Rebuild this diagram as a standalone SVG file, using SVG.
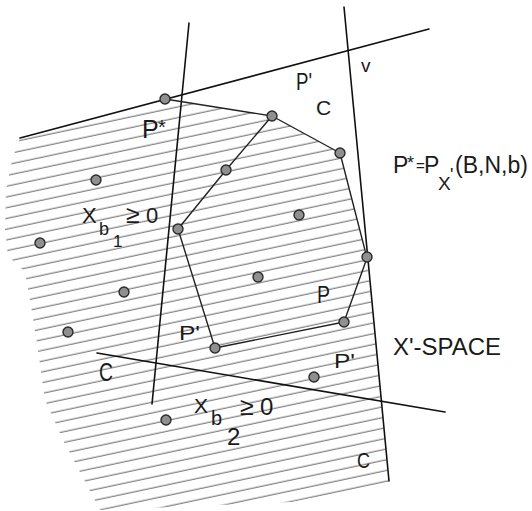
<svg xmlns="http://www.w3.org/2000/svg" width="532" height="511" viewBox="0 0 532 511">
<style>
.ln{stroke:#111;stroke-width:1.6;fill:none;stroke-linecap:round}
.edge{stroke:#222;stroke-width:1.4;fill:none;stroke-linejoin:round}
.pt{fill:#8f8f8f;stroke:#2a2a2a;stroke-width:1.4}
.t{font-family:"Liberation Sans",Arial,sans-serif;fill:#1a1a1a}
</style>
<defs>
<pattern id="hatch" patternUnits="userSpaceOnUse" width="200" height="10.5" patternTransform="rotate(-12)">
<line x1="0" y1="5" x2="200" y2="5" stroke="#555" stroke-width="0.95"/>
</pattern>
<clipPath id="hclip">
<polygon points="20,138 165,99 272,116 340,153 367,258 389,483 292,502 100,510 63,440 45,400 38,350 30,300 25,272 8,256 5,230 6,190 12,160"/>
</clipPath>
</defs>
<rect id="hatching" x="0" y="0" width="532" height="511" fill="url(#hatch)" clip-path="url(#hclip)"/>
<g id="connectors">
<line class="ln" x1="189" y1="23" x2="152" y2="404"/>
<line class="ln" x1="20" y1="138" x2="429" y2="29"/>
<line class="ln" x1="344" y1="7" x2="389" y2="481"/>
<line class="ln" x1="97" y1="353" x2="445" y2="412"/>
<polyline class="edge" points="165,99 272,116"/>
<polygon class="edge" points="272,116 340,153 367,258 344,322 215,348 178,229 226,170"/>
</g>
<g id="points">
<circle class="pt" cx="165" cy="99" r="5"/>
<circle class="pt" cx="272" cy="116" r="5"/>
<circle class="pt" cx="340" cy="153" r="5"/>
<circle class="pt" cx="96" cy="180" r="5"/>
<circle class="pt" cx="226" cy="170" r="5"/>
<circle class="pt" cx="299" cy="215" r="5"/>
<circle class="pt" cx="178" cy="229" r="5"/>
<circle class="pt" cx="40" cy="243" r="5"/>
<circle class="pt" cx="367" cy="257" r="5"/>
<circle class="pt" cx="124" cy="292" r="5"/>
<circle class="pt" cx="258" cy="277" r="5"/>
<circle class="pt" cx="344" cy="322" r="5"/>
<circle class="pt" cx="215" cy="348" r="5"/>
<circle class="pt" cx="68" cy="332" r="5"/>
<circle class="pt" cx="314" cy="377" r="5"/>
<circle class="pt" cx="166" cy="420" r="5"/>
</g>
<g id="labels">
<text class="t" font-size="25"><tspan x="142" y="138">P</tspan><tspan x="158" y="134" font-size="20">*</tspan></text>
<text class="t" x="296" y="90" font-size="23" textLength="16" lengthAdjust="spacingAndGlyphs">P'</text>
<text class="t" x="316" y="115" font-size="21">C</text>
<text class="t" x="361" y="72" font-size="19">v</text>
<text class="t" font-size="23"><tspan x="393" y="173">P</tspan><tspan x="407" y="169" font-size="18">*</tspan><tspan x="416" y="171" font-size="15">=</tspan><tspan x="424" y="173">P</tspan><tspan x="438" y="190" font-size="19">X</tspan><tspan x="450" y="181" font-size="18">'</tspan><tspan x="455" y="173">(B,N,b)</tspan></text>
<text class="t" font-size="22"><tspan x="82" y="223">X</tspan><tspan x="99" y="235" font-size="18">b</tspan><tspan x="113" y="247" font-size="17">1</tspan><tspan x="126" y="223" font-size="25">≥</tspan><tspan x="146" y="223">0</tspan></text>
<text class="t" x="317" y="303" font-size="24" textLength="13" lengthAdjust="spacingAndGlyphs">P</text>
<text class="t" x="179" y="340" font-size="21" textLength="21" lengthAdjust="spacingAndGlyphs">P'</text>
<text class="t" x="334" y="368" font-size="21" textLength="21" lengthAdjust="spacingAndGlyphs">P'</text>
<text class="t" x="393" y="355" font-size="23" textLength="108" lengthAdjust="spacingAndGlyphs">X'-SPACE</text>
<text class="t" x="99" y="381" font-size="26" textLength="14" lengthAdjust="spacingAndGlyphs">C</text>
<text class="t" font-size="21"><tspan x="194" y="413">X</tspan><tspan x="211" y="425" font-size="20">b</tspan><tspan x="227" y="445" font-size="24">2</tspan><tspan x="240" y="415" font-size="25">≥</tspan><tspan x="260" y="415" font-size="24">0</tspan></text>
<text class="t" x="357" y="468" font-size="22" textLength="13" lengthAdjust="spacingAndGlyphs">C</text>
</g>
</svg>
